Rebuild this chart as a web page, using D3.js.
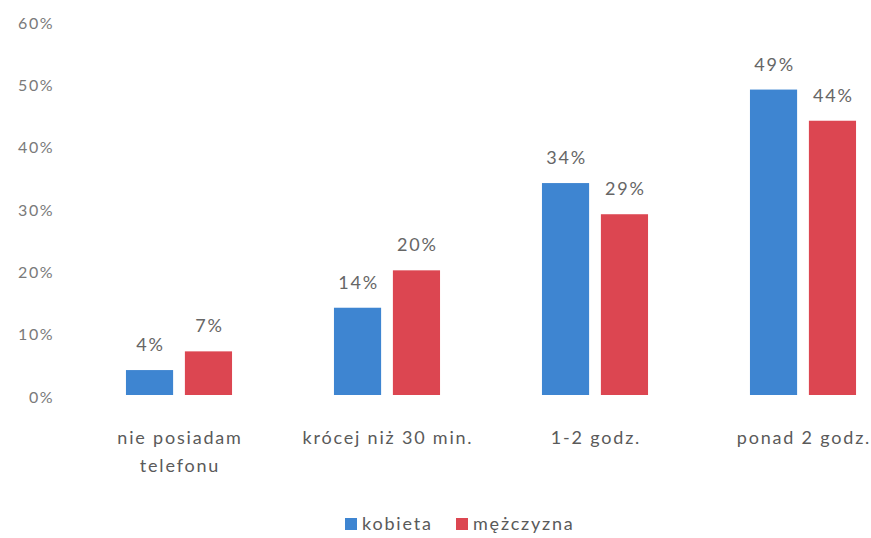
<!DOCTYPE html>
<html><head><meta charset="utf-8">
<script src="https://cdn.jsdelivr.net/npm/d3@7"></script>
<style>
html,body{margin:0;padding:0;background:#fff;}
svg{display:block;font-family:Lato,"Open Sans",sans-serif;}
</style></head>
<body>
<svg id="chart" width="871" height="538"></svg>
<script>
const categories = [["nie posiadam","telefonu"],["krócej niż 30 min."],["1-2 godz."],["ponad 2 godz."]];
const seriesNames = ["kobieta","mężczyzna"];
const kobieta = [4, 14, 34, 49];
const mezczyzna = [7, 20, 29, 44];
const yTicks = [0,10,20,30,40,50,60];
const colors = ["#3e85d1","#dc4651"];

const svg = d3.select("#chart");
const catKeys = categories.map(c => c.join(" "));
const data = catKeys.map((k,i) => ({key:k, lines:categories[i], values:[kobieta[i], mezczyzna[i]]}));

const x0 = d3.scaleBand().domain(catKeys).range([75, 907]).paddingInner(0.49).paddingOuter(0.245);
const x1 = d3.scaleBand().domain(seriesNames).range([0, x0.bandwidth()]).paddingInner(0.2).paddingOuter(0);
const y = d3.scaleLinear().domain([0,60]).range([395, 21]);

// y axis labels
const yAxis = d3.axisLeft(y).tickValues(yTicks).tickFormat(d => d + "%").tickSize(0).tickPadding(0);
const ga = svg.append("g").attr("transform","translate(54,2)").call(yAxis);
ga.select(".domain").remove();
ga.selectAll("text").attr("font-size", 16).attr("letter-spacing", 1.5).attr("fill","#7a7a7a").attr("font-family","Lato,'Open Sans',sans-serif");

const groups = svg.selectAll("g.grp").data(data).enter().append("g")
  .attr("transform", d => `translate(${x0(d.key)},0)`);

groups.selectAll("rect").data(d => d.values.map((v,i)=>({s:seriesNames[i], v, i})))
  .enter().append("rect")
  .attr("x", d => x1(d.s)).attr("width", x1.bandwidth())
  .attr("y", d => y(d.v)).attr("height", d => y(0) - y(d.v))
  .attr("fill", d => colors[d.i]);

groups.selectAll("text.val").data(d => d.values.map((v,i)=>({s:seriesNames[i], v, i})))
  .enter().append("text").attr("class","val")
  .attr("x", d => x1(d.s) + x1.bandwidth()/2 + 1)
  .attr("y", d => y(d.v) - 19)
  .attr("text-anchor","middle").attr("font-size",18).attr("letter-spacing",1.8).attr("fill","#666")
  .text(d => d.v + "%");

// category labels
const xAxis = d3.axisBottom(x0).tickSize(0).tickFormat("");
const gx = svg.append("g").attr("transform", `translate(0,${y(0)})`).call(xAxis);
gx.select(".domain").remove();
data.forEach(d => {
  const cx = x0(d.key) + x0.bandwidth()/2 + 1;
  const t = svg.append("text").attr("text-anchor","middle").attr("font-size",18).attr("letter-spacing",1.8).attr("fill","#5a5a5a")
    .attr("x", cx).attr("y", 444);
  d.lines.forEach((ln, j) => t.append("tspan").attr("x", cx).attr("dy", j ? 28 : 0).text(ln));
});

// legend
const legend = svg.append("g").attr("transform","translate(345,0)");
const legX = [0, 111];
seriesNames.forEach((s,i) => {
  legend.append("rect").attr("x", legX[i]).attr("y", 518).attr("width", 12).attr("height", 12).attr("fill", colors[i]);
  legend.append("text").attr("x", legX[i] + 17).attr("y", 530).attr("font-size", 18).attr("letter-spacing",1.8).attr("fill","#5a5a5a").text(s);
});
</script>
</body></html>
